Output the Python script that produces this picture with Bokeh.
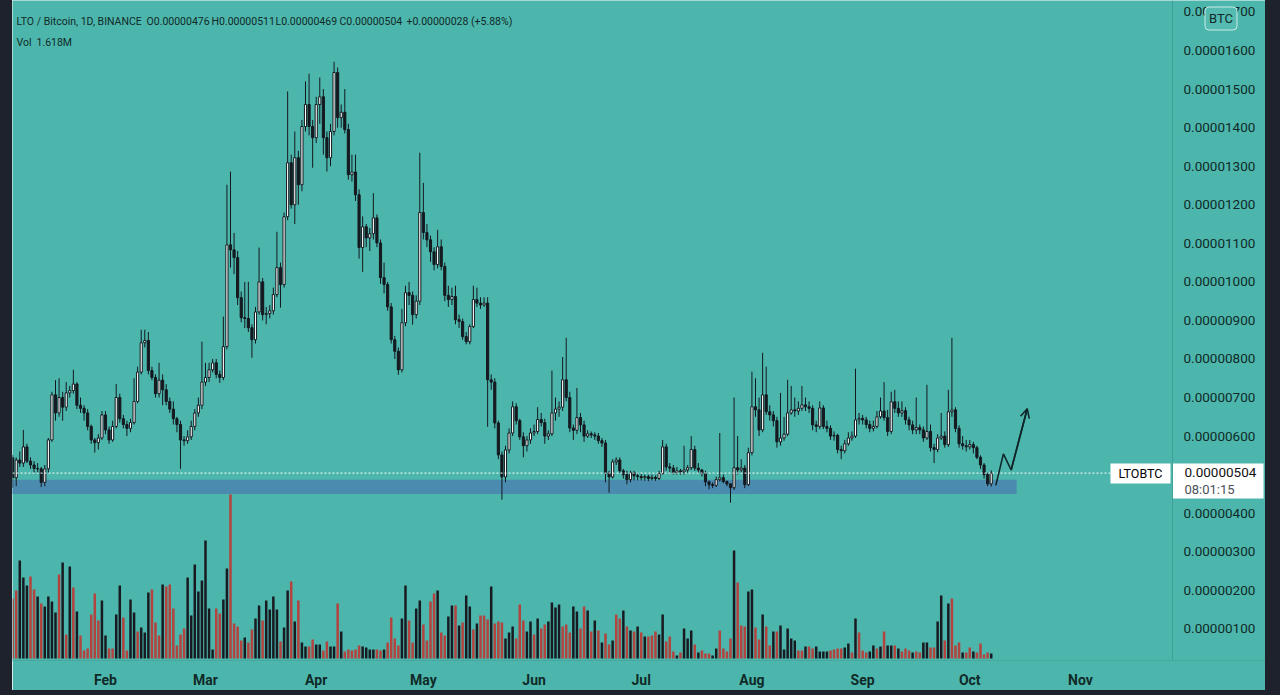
import numpy as np
import pandas as pd
from bokeh.plotting import figure
from bokeh.models import (Range1d, FixedTicker, DatetimeTickFormatter,
                          Span, Label, Arrow, OpenHead, ColumnDataSource)
from bokeh.embed import file_html
from bokeh.resources import INLINE
from bokeh.core.properties import value

# ---------------------------------------------------------------- data
# daily candles of LTO/BTC (Binance), values in satoshi (1e-8 BTC)
first_day = "2021-01-06"
opens = [
    544, 492, 538, 530, 572, 535, 525, 516, 515, 480,
    515, 590, 707, 660, 700, 675, 712, 718, 735, 680,
    672, 660, 625, 590, 583, 595, 655, 616, 590, 625,
    700, 645, 630, 620, 635, 690, 766, 842, 848, 770,
    752, 710, 745, 720, 690, 670, 645, 630, 590, 588,
    598, 625, 660, 680, 740, 752, 772, 790, 760, 752,
    832, 1096, 1083, 1063, 959, 907, 905, 881, 850, 922,
    1000, 915, 918, 925, 967, 1037, 993, 1169, 1309, 1200,
    1322, 1252, 1403, 1460, 1403, 1374, 1460, 1480, 1374, 1322,
    1390, 1543, 1426, 1440, 1395, 1278, 1285, 1226, 1089, 1143,
    1114, 1125, 1166, 1101, 1011, 993, 935, 850, 820, 772,
    894, 972, 965, 915, 950, 1180, 1128, 1109, 1078, 1045,
    1091, 1040, 965, 954, 962, 902, 897, 858, 845, 884,
    954, 945, 940, 945, 746, 740, 634, 551, 494, 564,
    608, 676, 640, 598, 575, 590, 608, 612, 643, 635,
    600, 606, 660, 670, 675, 746, 700, 621, 615, 648,
    629, 600, 606, 603, 600, 588, 582, 504, 494, 533,
    538, 510, 500, 487, 505, 497, 495, 492, 495, 490,
    493, 490, 503, 572, 520, 517, 505, 510, 507, 512,
    518, 565, 517, 512, 503, 481, 474, 472, 487, 492,
    482, 476, 466, 518, 512, 517, 474, 557, 676, 668,
    616, 707, 663, 655, 640, 585, 595, 605, 660, 668,
    665, 672, 681, 676, 672, 629, 625, 673, 625, 620,
    600, 602, 565, 562, 580, 595, 600, 642, 646, 642,
    630, 620, 625, 650, 665, 648, 612, 689, 672, 660,
    666, 642, 629, 616, 622, 616, 595, 612, 570, 565,
    595, 600, 578, 663, 668, 620, 580, 575, 572, 578,
    570, 545, 525, 500, 476,
]
highs = [
    551, 545, 560, 616, 580, 545, 535, 530, 520, 525,
    595, 715, 745, 750, 715, 740, 730, 772, 740, 700,
    680, 670, 630, 595, 605, 665, 665, 625, 640, 735,
    710, 655, 640, 645, 750, 780, 876, 876, 870, 780,
    760, 790, 760, 735, 700, 690, 650, 640, 600, 615,
    640, 670, 700, 845, 790, 790, 800, 800, 770, 910,
    1252, 1286, 1127, 1080, 975, 1000, 1000, 890, 935, 1089,
    1010, 935, 940, 985, 1130, 1050, 1180, 1494, 1330, 1390,
    1340, 1420, 1520, 1540, 1420, 1480, 1530, 1500, 1390, 1410,
    1571, 1556, 1460, 1500, 1410, 1330, 1330, 1240, 1170, 1150,
    1140, 1230, 1175, 1110, 1050, 1000, 945, 860, 830, 930,
    990, 1000, 975, 965, 1335, 1257, 1150, 1120, 1090, 1135,
    1110, 1050, 990, 985, 990, 915, 905, 870, 890, 990,
    985, 960, 960, 960, 760, 750, 640, 560, 575, 620,
    690, 685, 645, 610, 600, 620, 630, 675, 660, 645,
    615, 770, 700, 690, 805, 855, 715, 630, 725, 660,
    640, 615, 612, 610, 608, 595, 590, 510, 540, 545,
    545, 515, 510, 510, 510, 505, 502, 500, 500, 500,
    498, 510, 590, 580, 530, 525, 520, 515, 575, 525,
    600, 575, 530, 515, 510, 485, 480, 495, 608, 500,
    485, 478, 700, 600, 540, 525, 570, 767, 750, 700,
    816, 780, 680, 665, 650, 712, 650, 746, 730, 700,
    690, 730, 700, 690, 680, 640, 690, 680, 640, 628,
    612, 606, 575, 590, 610, 612, 775, 660, 655, 650,
    640, 640, 665, 700, 740, 668, 715, 720, 690, 690,
    675, 650, 640, 700, 630, 625, 733, 630, 580, 605,
    660, 612, 720, 855, 675, 628, 600, 590, 590, 585,
    575, 550, 530, 505, 511,
]
lows = [
    466, 470, 520, 520, 530, 515, 505, 505, 468, 470,
    505, 585, 640, 650, 640, 665, 700, 710, 670, 660,
    640, 615, 580, 557, 565, 590, 605, 580, 585, 620,
    635, 620, 600, 610, 630, 685, 760, 830, 760, 745,
    700, 700, 680, 680, 660, 630, 610, 515, 575, 580,
    590, 615, 650, 670, 730, 740, 765, 750, 738, 745,
    825, 1037, 1020, 940, 895, 880, 870, 803, 840, 915,
    900, 890, 905, 915, 960, 933, 985, 1160, 1190, 1150,
    1200, 1235, 1390, 1380, 1296, 1360, 1410, 1330, 1286, 1300,
    1380, 1400, 1400, 1385, 1265, 1260, 1210, 1060, 1026, 1090,
    1080, 1110, 1090, 995, 970, 925, 840, 800, 759, 765,
    885, 940, 889, 905, 940, 1110, 1090, 1052, 1030, 1035,
    1030, 950, 935, 940, 890, 880, 850, 838, 838, 880,
    935, 930, 935, 624, 720, 620, 540, 435, 480, 555,
    600, 630, 590, 545, 560, 580, 600, 605, 625, 580,
    590, 600, 640, 650, 665, 690, 610, 590, 605, 610,
    585, 595, 595, 590, 580, 572, 480, 453, 490, 525,
    505, 490, 475, 480, 485, 485, 485, 484, 483, 485,
    484, 486, 500, 510, 505, 500, 500, 500, 500, 505,
    512, 510, 505, 495, 470, 462, 465, 468, 482, 478,
    470, 427, 460, 500, 505, 465, 470, 550, 650, 600,
    610, 655, 640, 625, 570, 575, 588, 600, 655, 650,
    655, 665, 665, 660, 615, 610, 618, 618, 610, 590,
    588, 555, 540, 555, 575, 588, 595, 630, 630, 620,
    610, 612, 620, 645, 640, 600, 605, 660, 650, 650,
    630, 615, 605, 605, 605, 585, 590, 560, 530, 558,
    590, 570, 572, 650, 610, 570, 565, 560, 565, 555,
    540, 515, 490, 470, 469,
]
closes = [
    492, 538, 530, 572, 535, 525, 516, 515, 480, 515,
    590, 707, 660, 700, 675, 712, 718, 735, 680, 672,
    660, 625, 590, 583, 595, 655, 616, 590, 625, 700,
    645, 630, 620, 635, 690, 766, 842, 848, 770, 752,
    710, 745, 720, 690, 670, 645, 630, 590, 588, 598,
    625, 660, 680, 740, 752, 772, 790, 760, 752, 832,
    1096, 1083, 1063, 959, 907, 905, 881, 850, 922, 1000,
    915, 918, 925, 967, 1037, 993, 1169, 1309, 1200, 1322,
    1252, 1403, 1460, 1403, 1374, 1460, 1480, 1374, 1322, 1390,
    1543, 1426, 1440, 1395, 1278, 1285, 1226, 1089, 1143, 1114,
    1125, 1166, 1101, 1011, 993, 935, 850, 820, 772, 894,
    972, 965, 915, 950, 1180, 1128, 1109, 1078, 1045, 1091,
    1040, 965, 954, 962, 902, 897, 858, 845, 884, 954,
    945, 940, 945, 746, 740, 634, 551, 494, 564, 608,
    676, 640, 598, 575, 590, 608, 612, 643, 635, 600,
    606, 660, 670, 675, 746, 700, 621, 615, 648, 629,
    600, 606, 603, 600, 588, 582, 504, 494, 533, 538,
    510, 500, 487, 505, 497, 495, 492, 495, 490, 493,
    490, 503, 572, 520, 517, 505, 510, 507, 512, 518,
    565, 517, 512, 503, 481, 474, 472, 487, 492, 482,
    476, 466, 518, 512, 517, 474, 557, 676, 668, 616,
    707, 663, 655, 640, 585, 595, 605, 660, 668, 665,
    672, 681, 676, 672, 629, 625, 673, 625, 620, 600,
    602, 565, 562, 580, 595, 600, 642, 646, 642, 630,
    620, 625, 650, 665, 648, 612, 689, 672, 660, 666,
    642, 629, 616, 622, 616, 595, 612, 570, 565, 595,
    600, 578, 663, 668, 620, 580, 575, 572, 578, 570,
    545, 525, 500, 476, 504,
]
# daily volume (relative bar heights)
volume = [
    60,
    68, 98, 81, 73, 82, 69, 62, 55, 52, 62,
    57, 46, 84, 96, 24, 92, 71, 47, 23, 8,
    10, 44, 65, 38, 58, 23, 10, 10, 44, 73,
    41, 8, 59, 46, 27, 31, 26, 66, 69, 36,
    23, 74, 72, 74, 50, 13, 24, 30, 81, 43,
    94, 67, 78, 118, 50, 9, 50, 45, 59, 90,
    164, 35, 32, 18, 21, 16, 29, 40, 53, 38,
    58, 49, 62, 49, 17, 31, 68, 77, 37, 58,
    16, 12, 12, 19, 14, 14, 8, 17, 12, 12,
    55, 27, 7, 9, 8, 9, 13, 12, 11, 9,
    9, 9, 8, 9, 16, 41, 20, 13, 40, 73,
    38, 16, 50, 58, 34, 18, 57, 65, 68, 26,
    23, 42, 53, 53, 33, 36, 63, 52, 29, 35,
    43, 43, 39,
    72, 35, 37, 36, 20, 26, 32, 20, 54, 38,
    27, 37, 24, 40, 30, 34, 37, 56, 51, 54,
    32, 34, 26, 52, 47, 30, 52, 48, 27, 38,
    28, 16, 25, 14, 18, 44, 40, 48, 32, 28,
    27, 32, 26, 22, 22, 23, 27, 24, 44, 17,
    22, 7, 3, 6, 30, 20, 28, 14, 6, 8,
    5, 5, 3, 10, 28, 10, 7, 20, 108, 76,
    33, 32, 67, 69, 31, 19, 44, 32, 13, 27,
    27, 33, 9, 30, 20, 18, 8, 8, 12, 12,
    10, 12, 7, 7, 7, 8, 9, 10, 10, 11,
    15, 6, 40, 26, 8, 6, 7, 13, 10, 12,
    27, 13, 13, 13, 10, 7, 10, 8, 6, 7,
    6, 16, 16, 11, 11, 37, 63, 18, 55, 60,
    13, 16, 6, 6, 11, 7, 6, 15, 4, 6,
    5,
]
# volume bar colour per day: r = red, k = black
volume_color = ("r"
                "rkkkrrkrkk" "kkrkrkrkrr" "rrrrkkrrkk" "rrkkrkkkrr" "rkrrrrrrkk"
                "kkkkkkrrkk" "rrrrkrrkkr" "kkkkrkkrkr" "kkrrkkrrkk" "rkrrrrrkkk"
                "krrkrrrrkk" "rrkkrrrrkr" "rkkrkrkkrk" "rrr"
                "krrrkkkrrr" "kkrkrrkkkk" "rrrkkrrkrk" "rkrrkrrkrk" "rkrkrrrkkr"
                "rrkrkkkrkr" "rrkkrrrrkr" "rrkkrrkrrk" "rkkkkkrrkr" "rkkkkrrrrk"
                "krkrrrkkrk" "rkkrkrrrkr" "rkkrrkkrkr" "rrkrrkrrrr" "k")

month_ticks = ["2021-02-01", "2021-03-01", "2021-04-01", "2021-05-01", "2021-06-01",
               "2021-07-01", "2021-08-01", "2021-09-01", "2021-10-01", "2021-11-01"]
price_ticks = [0.000001, 0.000002, 0.000003, 0.000004, 0.000005, 0.000006,
               0.000007, 0.000008, 0.000009, 0.00001, 0.000011, 0.000012,
               0.000013, 0.000014, 0.000015, 0.000016, 0.000017]

# support zone (satoshi) and drawn arrow
zone_start, zone_end = "2020-12-20", "2021-10-14 03:00"
zone_low, zone_high = 450, 487
arrow_times = ["2021-10-08 07:00", "2021-10-10 10:00", "2021-10-12 14:00", "2021-10-17 02:00"]
arrow_prices = [472, 554, 512, 671]

header_items = ["LTO / Bitcoin, 1D, BINANCE", "O0.00000476", "H0.00000511",
                "L0.00000469", "C0.00000504", "+0.00000028 (+5.88%)"]
volume_items = ["Vol", "1.618M"]
symbol = "LTOBTC"
last_price_text = "0.00000504"
countdown = "08:01:15"
currency = "BTC"

# ---------------------------------------------------------------- style
TEAL = "#4db6ac"
FRAME_DARK = "#1e222d"
ZONE = "#4b8bb0"
WICK = "#14181e"
UP_FILL = "#ffffff"
DOWN_FILL = "#161a21"
VOL_RED = "#b3433e"
VOL_BLACK = "#171b21"
TEXT = "#0f2a28"
ARROW = "#10262a"
SEP = "#40a198"
FONT = "Roboto"
SAT = 1e-8
DAY_MS = 86400000.0


def ms(s):
    return pd.Timestamp(s).timestamp() * 1000.0


# page-pixel -> data helpers (layout only)
def tx(page_x):
    return ms("2021-02-01") + (page_x - 105.0) / 3.5714 * DAY_MS


def ty(page_y):
    return (666.9 - page_y) / 0.38553 * SAT


o = np.array(opens) * SAT
h = np.array(highs) * SAT
l = np.array(lows) * SAT
c = np.array(closes) * SAT
dates = pd.date_range(first_day, periods=len(closes), freq="D")
up = c >= o
candles = ColumnDataSource(dict(
    x=dates, high=h, low=l,
    top=np.maximum(o, c), bottom=np.minimum(o, c),
    fill=np.where(up, UP_FILL, DOWN_FILL),
))
vol_dates = pd.date_range(first_day, periods=len(volume), freq="D")
vols = ColumnDataSource(dict(
    x=vol_dates, top=volume,
    color=[VOL_RED if ch == "r" else VOL_BLACK for ch in volume_color[:len(volume)]],
))

# frame covers the chart and the price-scale column (page x 12..1265)
p = figure(width=1253, height=690, x_axis_type="datetime", y_axis_location=None,
           x_range=Range1d(tx(12), tx(1265)), y_range=Range1d(ty(660), ty(0)),
           toolbar_location=None, output_backend="svg",
           background_fill_color=TEAL, border_fill_color=TEAL, outline_line_color=None,
           min_border_left=0, min_border_right=0, min_border_top=0, min_border_bottom=30)
p.styles = {"margin": "0px 0px 0px 12px", "box-shadow": "0 0 0 24px " + FRAME_DARK}
p.extra_y_ranges = {"vol": Range1d(-2, 658)}
p.xgrid.visible = False
p.ygrid.visible = False

# support zone
p.quad(left=[ms(zone_start)], right=[ms(zone_end)], bottom=[zone_low * SAT], top=[zone_high * SAT],
       fill_color=ZONE, line_color=None)

# volume
p.vbar(x="x", top="top", bottom=0, width=0.7 * DAY_MS, fill_color="color", line_color=None,
       y_range_name="vol", source=vols)

# candles
p.segment(x0="x", y0="low", x1="x", y1="high", line_color=WICK, line_width=1, source=candles)
p.vbar(x="x", top="top", bottom="bottom", width=0.6 * DAY_MS, fill_color="fill",
       line_color=WICK, line_width=1, source=candles)

# last price dotted line (up to the price scale)
p.segment(x0=[tx(12)], y0=[closes[-1] * SAT], x1=[tx(1172)], y1=[closes[-1] * SAT],
          line_color="white", line_dash="2 2", line_width=1)

# drawn arrow
ax = [ms(t) for t in arrow_times]
ay = [v * SAT for v in arrow_prices]
p.line(ax, ay, line_color=ARROW, line_width=1.6)
p.add_layout(Arrow(end=OpenHead(size=9, line_color=ARROW, line_width=1.6),
                   x_start=ax[-2], y_start=ay[-2], x_end=ax[-1], y_end=ay[-1],
                   line_color=ARROW, line_width=1.6))

# price scale column: separator and tick labels
p.add_layout(Span(location=tx(1172), dimension="height", line_color=SEP, line_width=1))
p.text(x=[tx(1183)] * len(price_ticks), y=price_ticks,
       text=["%.8f" % t for t in price_ticks],
       text_font=value(FONT), text_font_size=value("13.5px"), text_color=TEXT,
       text_align="left", text_baseline="middle")

# time axis
xa = p.xaxis[0]
xa.ticker = FixedTicker(ticks=[ms(t) for t in month_ticks])
xa.formatter = DatetimeTickFormatter(microseconds="%b", milliseconds="%b", seconds="%b",
                                     minsec="%b", minutes="%b", hourmin="%b", hours="%b",
                                     days="%b", months="%b", years="%b")
xa.major_tick_line_color = None
xa.minor_tick_line_color = None
xa.axis_line_color = "#46a89f"
xa.major_label_text_font = FONT
xa.major_label_text_font_size = "14px"
xa.major_label_text_font_style = "bold"
xa.major_label_text_color = TEXT
xa.major_label_standoff = 5

# header legend
header_x = [16, 146, 211, 275, 339, 406]
for txt, px in zip(header_items, header_x):
    p.add_layout(Label(x=tx(px), y=ty(21), text=txt, text_font=FONT, text_font_size="10.5px",
                       text_color=TEXT, text_align="left", text_baseline="middle"))
for txt, px in zip(volume_items, [16, 36]):
    p.add_layout(Label(x=tx(px), y=ty(42), text=txt, text_font=FONT, text_font_size="10.5px",
                       text_color=TEXT, text_align="left", text_baseline="middle"))

# symbol label and last-price label boxes
p.quad(left=[tx(1110)], right=[tx(1170)], top=[ty(463)], bottom=[ty(483)],
       fill_color="white", line_color=None)
p.text(x=[tx(1140)], y=[ty(473)], text=[symbol], text_font=value(FONT),
       text_font_size=value("12.5px"), text_color="#000000",
       text_align="center", text_baseline="middle")
p.quad(left=[tx(1172)], right=[tx(1263)], top=[ty(463)], bottom=[ty(498)],
       fill_color="white", line_color=None)
p.text(x=[tx(1184)], y=[ty(472)], text=[last_price_text], text_font=value(FONT),
       text_font_size=value("13.5px"), text_color="#111111",
       text_align="left", text_baseline="middle")
p.text(x=[tx(1184)], y=[ty(489)], text=[countdown], text_font=value(FONT),
       text_font_size=value("13px"), text_color="#4a4f55",
       text_align="left", text_baseline="middle")

# currency badge
p.add_layout(Label(x=tx(1220.5), y=ty(18), text=currency, text_font=FONT, text_font_size="13px",
                   text_color=TEXT, text_align="center", text_baseline="middle",
                   background_fill_color="#55bbb1", border_line_color="#c9ece8",
                   border_line_width=1, padding=4, border_radius=4))

open("out.html", "w").write(file_html(p, INLINE))
